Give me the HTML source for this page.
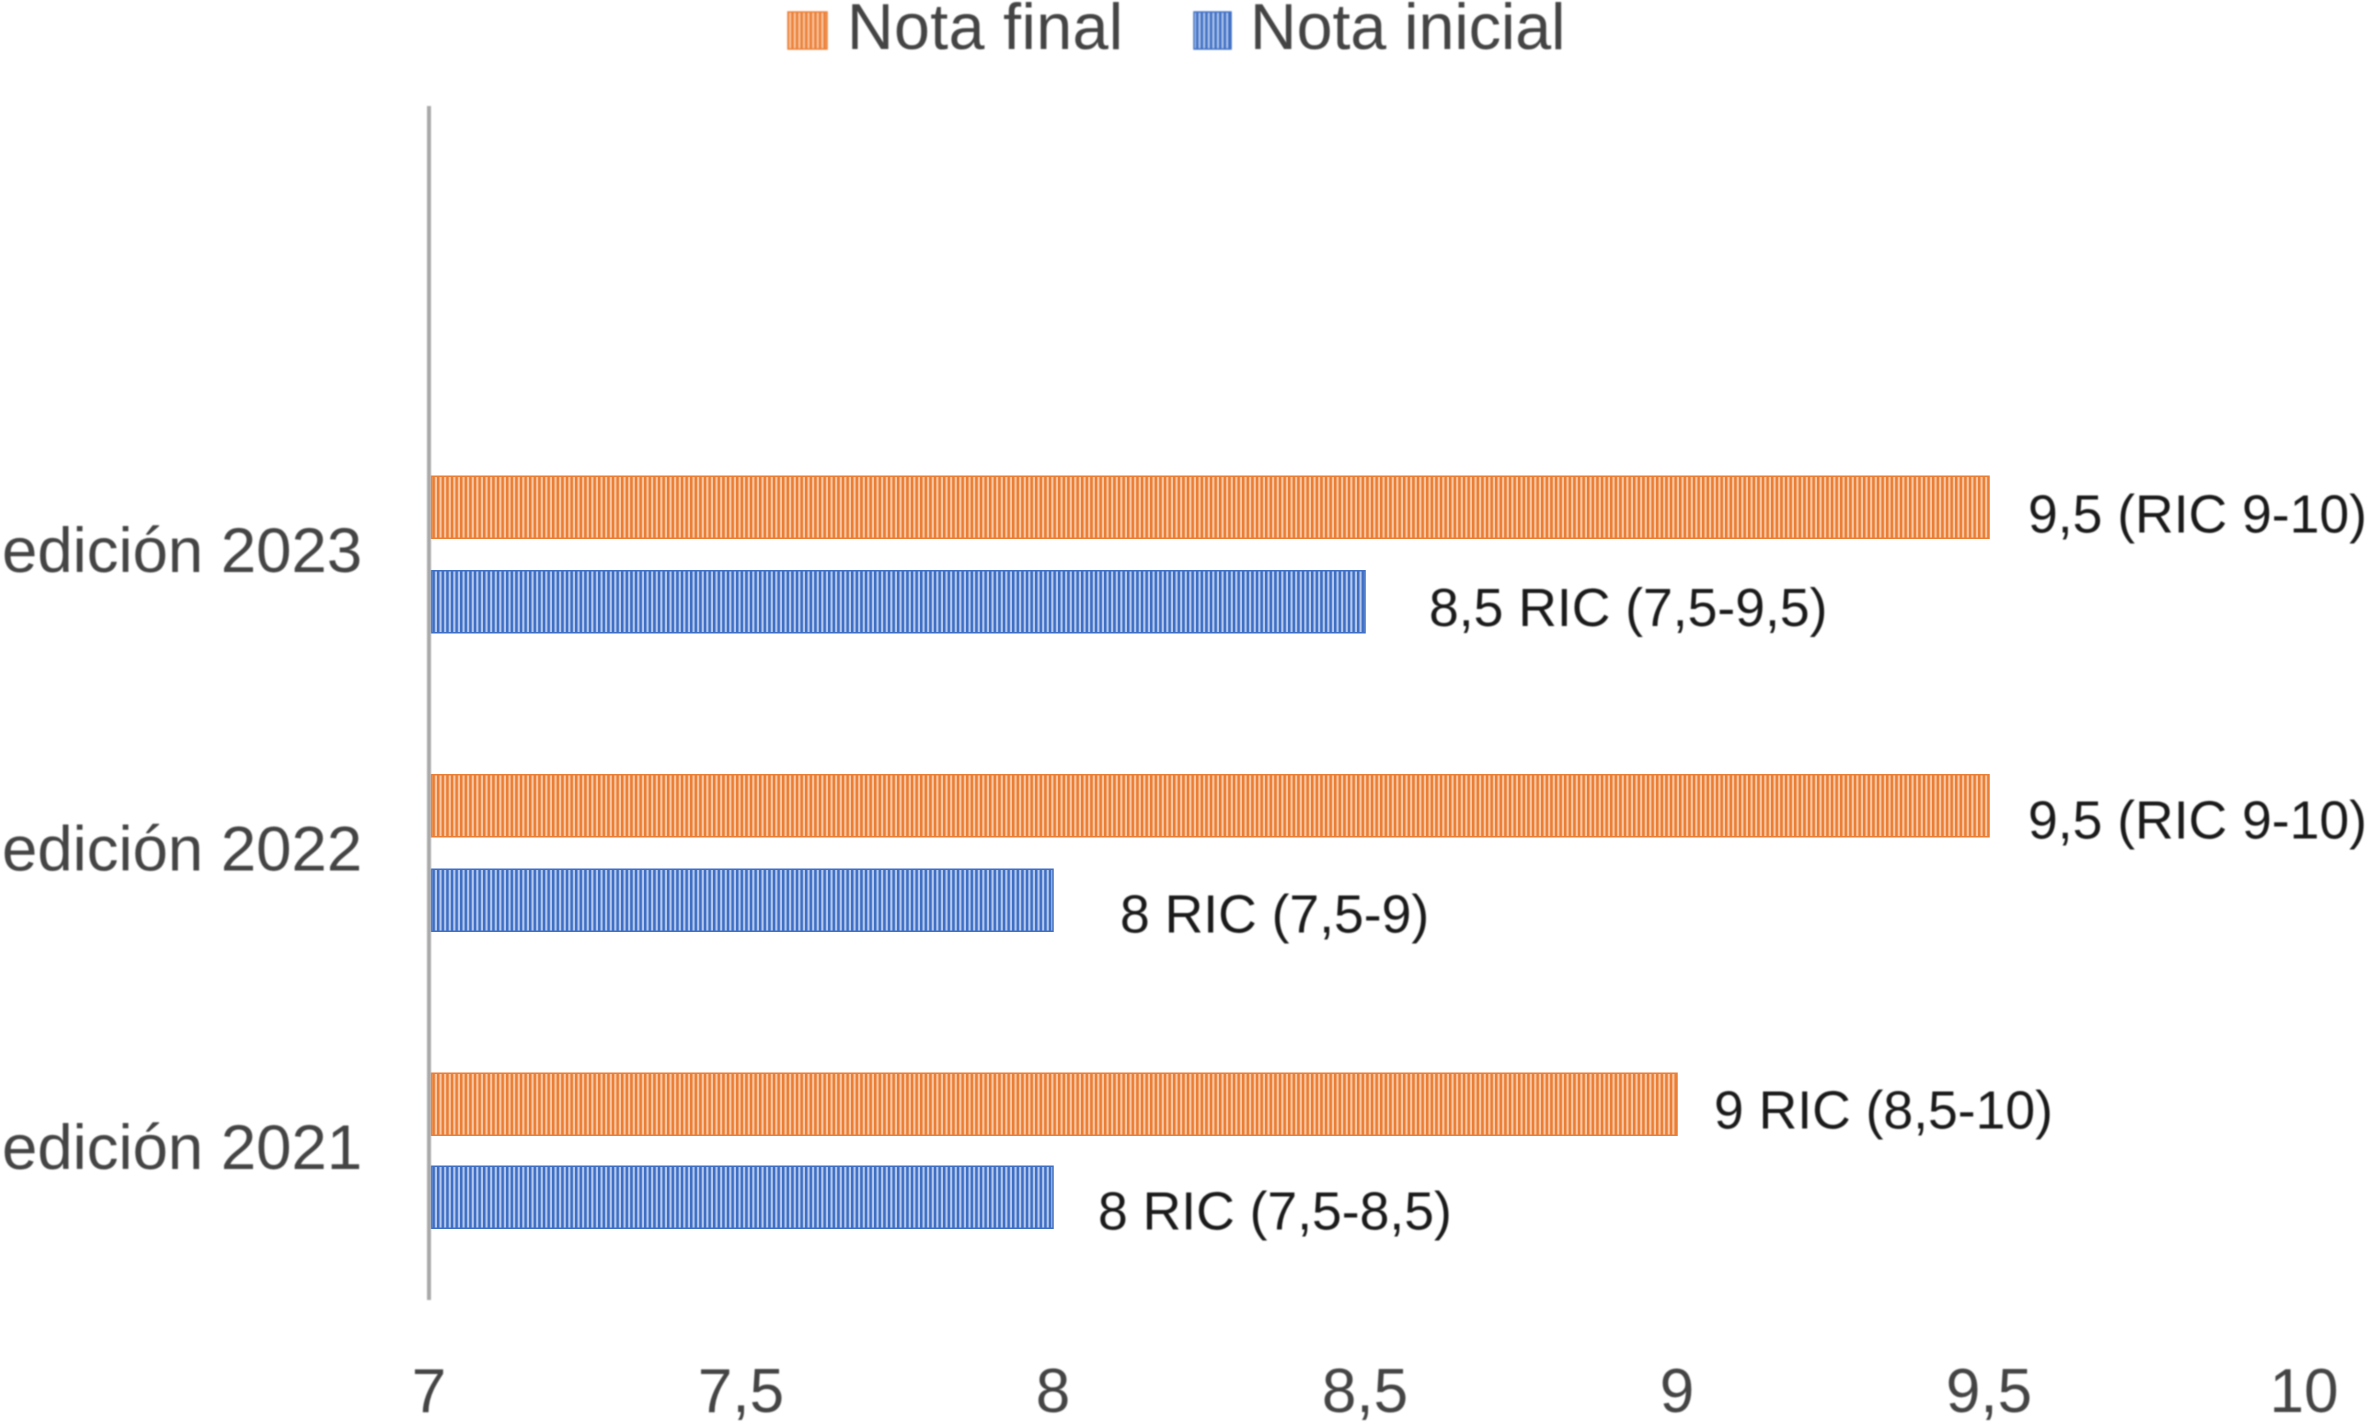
<!DOCTYPE html>
<html lang="es">
<head>
<meta charset="utf-8">
<title>Nota inicial y final por edición</title>
<style>
  html, body { margin: 0; padding: 0; background: #fff; }
  body { width: 2368px; height: 1424px; overflow: hidden; }
  svg { display: block; font-family: "Liberation Sans", sans-serif; }
  .soft { filter: blur(0.7px); }
</style>
</head>
<body>
<svg id="chart" width="2368" height="1424" viewBox="0 0 2368 1424" xmlns="http://www.w3.org/2000/svg">
  <defs>
    <pattern id="stripe-orange" width="4.6" height="10" patternUnits="userSpaceOnUse">
      <rect width="4.6" height="10" fill="#f9c7a4"></rect>
      <rect width="2.5" height="10" fill="#ea7e35"></rect>
    </pattern>
    <pattern id="stripe-blue" width="4.6" height="10" patternUnits="userSpaceOnUse">
      <rect width="4.6" height="10" fill="#b3c8ec"></rect>
      <rect width="2.5" height="10" fill="#3f6fc4"></rect>
    </pattern>
  </defs>
  <rect width="2368" height="1424" fill="#fff"></rect>

  <g class="soft">
    <g>
      <rect x="788" y="12" width="39" height="37" fill="url(#stripe-orange)" stroke="#ea7e35" stroke-width="1.5"></rect>
      <text x="847" y="49" font-size="64.5" letter-spacing="0.4" fill="#444">Nota final</text>
    </g>
    <g>
      <rect x="1194" y="12" width="37" height="37" fill="url(#stripe-blue)" stroke="#3f6fc4" stroke-width="1.5"></rect>
      <text x="1250" y="49" font-size="64.5" fill="#444">Nota inicial</text>
    </g>
  </g>

  <g id="marks"></g>
  <g id="y-axis" class="soft"></g>
  <g id="x-axis" class="soft"></g>
  <g id="labels" class="soft"></g>
</svg>

<script>
// Chart data (the top slot of the category axis is empty in the original)
const categories = ['', 'edición 2023', 'edición 2022', 'edición 2021'];
const notaFinal = [null, 9.5, 9.5, 9];
const notaInicial = [null, 8.5, 8, 8];
const notaFinalLabels = ['', '9,5 (RIC 9-10)', '9,5 (RIC 9-10)', '9 RIC (8,5-10)'];
const notaInicialLabels = ['', '8,5 RIC (7,5-9,5)', '8 RIC (7,5-9)', '8 RIC (7,5-8,5)'];
const xTicks = [7, 7.5, 8, 8.5, 9, 9.5, 10];
const xTickLabels = ['7', '7,5', '8', '8,5', '9', '9,5', '10'];

// Layout
const NS = 'http://www.w3.org/2000/svg';
const plot = { left: 429, right: 2301, top: 106, bottom: 1300 };
const xMin = 7, xMax = 10;
const barH = 62, barOffset = 46.5;

function xScale(v) {
  return plot.left + (v - xMin) / (xMax - xMin) * (plot.right - plot.left);
}
function bandCenter(i) {
  const band = (plot.bottom - plot.top) / categories.length;
  return plot.top + band * (i + 0.5);
}
function make(tag, attrs, parent, text) {
  const el = document.createElementNS(NS, tag);
  for (const k in attrs) el.setAttribute(k, attrs[k]);
  if (text !== undefined) el.textContent = text;
  parent.appendChild(el);
  return el;
}

const marks = document.getElementById('marks');
const yAxis = document.getElementById('y-axis');
const xAxis = document.getElementById('x-axis');
const labels = document.getElementById('labels');

// Hand-placed nudges of the original, relative to each bar end / centre
const finalNudgeX = [0, 39, 39, 37];
const finalNudgeY = [0, 25, 32.5, 24];
const inicialNudgeX = [0, 64, 67, 45];
const inicialNudgeY = [0, 25.5, 33.5, 32];
const inicialBarNudge = [0, 1.5, 1.5, 0];

const axisLine = make('line', { x1: plot.left, x2: plot.left, y1: plot.top, y2: plot.bottom, stroke: '#a9a9a9', 'stroke-width': 4 }, yAxis);



categories.forEach(function (cat, i) {
  if (cat === '') return;
  const cy = bandCenter(i);
  const catLabel = make('text', { x: 2, y: cy + 18, 'font-size': 63.5, fill: '#444' }, yAxis, cat);
  
  

  const finalBar = make('rect', {
    x: xScale(xMin) + 2.5, y: cy - barOffset - barH / 2,
    width: xScale(notaFinal[i]) - xScale(xMin) - 2.5, height: barH,
    fill: 'url(#stripe-orange)', stroke: '#ea7e35', 'stroke-width': 1.5
  }, marks);
  
  

  const inicialBar = make('rect', {
    x: xScale(xMin) + 2.5, y: cy + barOffset - barH / 2 + inicialBarNudge[i],
    width: xScale(notaInicial[i]) - xScale(xMin) - 2.5, height: barH,
    fill: 'url(#stripe-blue)', stroke: '#3f6fc4', 'stroke-width': 1.5
  }, marks);
  
  

  const finalLabel = make('text', {
    x: xScale(notaFinal[i]) + finalNudgeX[i], y: cy - barOffset + finalNudgeY[i],
    'font-size': 53.5, fill: '#1a1a1a'
  }, labels, notaFinalLabels[i]);
  
  

  const inicialLabel = make('text', {
    x: xScale(notaInicial[i]) + inicialNudgeX[i], y: cy + barOffset + inicialNudgeY[i],
    'font-size': 53.5, fill: '#1a1a1a'
  }, labels, notaInicialLabels[i]);
  
  
});

xTicks.forEach(function (t, i) {
  const tick = make('text', { x: xScale(t) + (t === xMax ? 3 : 0), y: 1412, 'font-size': 62, fill: '#444', 'text-anchor': 'middle' }, xAxis, xTickLabels[i]);
  
  
});
</script>
</body>
</html>
